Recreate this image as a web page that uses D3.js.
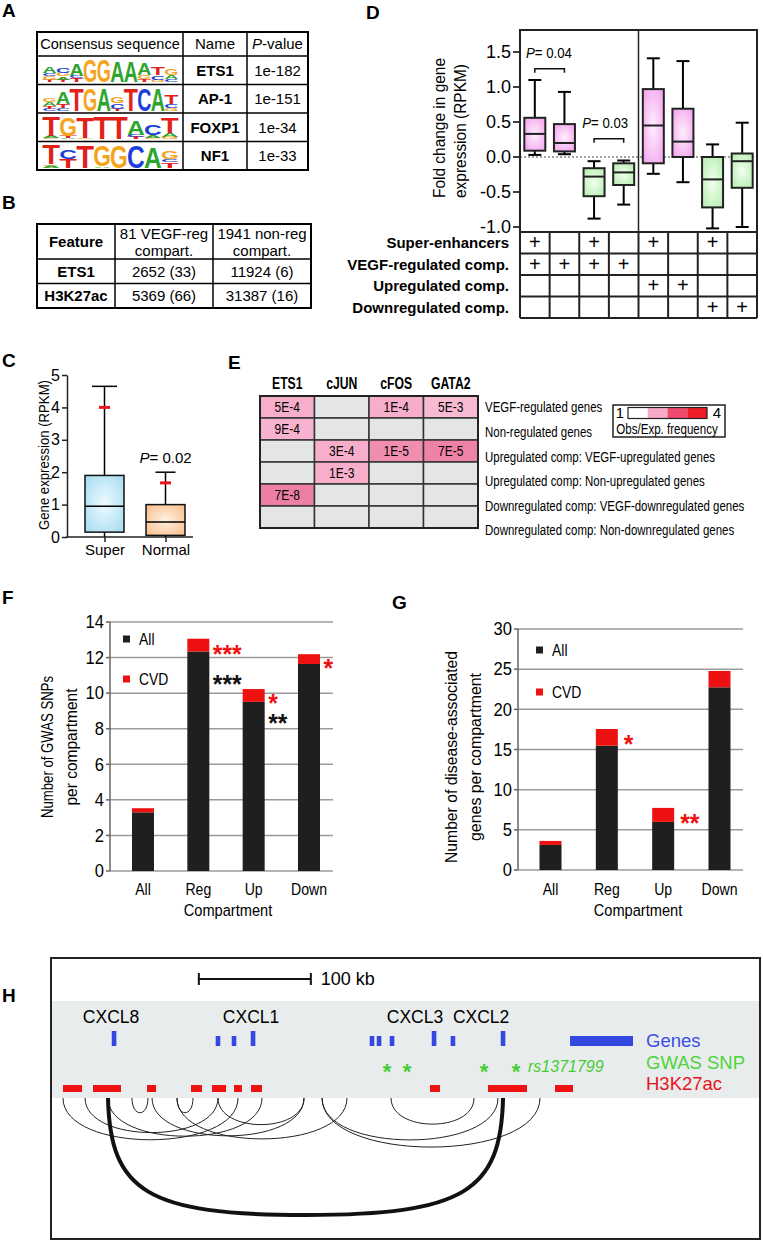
<!DOCTYPE html>
<html><head><meta charset="utf-8">
<script src="https://cdn.jsdelivr.net/npm/d3@7"></script>
<style>
html,body{margin:0;padding:0;background:#fff;}
svg{display:block;font-family:"Liberation Sans",Arial,Helvetica,sans-serif;}
</style></head><body>
<svg id="fig" width="763" height="1240"></svg>
<script>
// ================= DATA =================
// Panel A
const motifNames = ["ETS1", "AP-1", "FOXP1", "NF1"];
const motifPvalues = ["1e-182", "1e-151", "1e-34", "1e-33"];
const logoETS1 = [
  [["T",0.2],["G",0.3],["C",0.2],["A",0.55]],
  [["T",0.2],["A",0.25],["G",0.3],["C",0.45]],
  [["T",0.3],["C",0.2],["A",0.95]],
  [["G",1.85]], [["G",1.85]], [["A",1.75]], [["A",1.65]],
  [["T",0.25],["G",0.35],["A",0.9]],
  [["G",0.2],["C",0.35],["T",0.6]],
  [["C",0.25],["A",0.35],["G",0.55]]
];
const logoAP1 = [
  [["C",0.15],["T",0.25],["A",0.3],["G",0.35]],
  [["C",0.2],["T",0.3],["A",1.0]],
  [["T",1.85]], [["G",1.85]], [["A",1.85]],
  [["T",0.15],["C",0.45],["G",0.5]],
  [["T",1.85]], [["C",1.85]], [["A",1.85]],
  [["G",0.2],["C",0.35],["T",0.7]]
];
const logoFOXP1 = [
  [["G",0.1],["A",0.15],["T",1.6]],
  [["A",0.1],["T",0.15],["G",1.5]],
  [["G",0.1],["T",1.7]],
  [["T",1.8]], [["T",1.8]],
  [["T",0.15],["C",0.2],["A",1.2]],
  [["G",0.1],["A",0.2],["C",0.8]],
  [["G",0.15],["A",0.3],["T",1.3]]
];
const logoNF1 = [
  [["A",0.15],["G",0.1],["T",1.55]],
  [["T",0.7],["C",0.75]],
  [["T",1.8]],
  [["A",0.1],["G",1.7]],
  [["G",1.8]], [["C",1.8]], [["A",1.75]],
  [["T",0.45],["C",0.2],["G",0.6]]
];
const motifLogos = [logoETS1, logoAP1, logoFOXP1, logoNF1];

// Panel B
const bFeatures = ["ETS1", "H3K27ac"];
const bVegfReg = ["2652 (33)", "5369 (66)"];
const bNonReg = ["11924 (6)", "31387 (16)"];

// Panel C
const cGroups = ["Super", "Normal"];
const cMin = [0, 0];
const cQ1 = [0.15, 0.05];
const cMedian = [0.95, 0.46];
const cQ3 = [1.9, 1.0];
const cMax = [4.65, 2.0];
const cMark = [4.0, 1.67];
const cTicks = [0, 1, 2, 3, 4, 5];

// Panel D
const dMin    = [0.03, 0.04, -0.88, -0.68, -0.24, -0.36, -1.02, -1.00];
const dQ1     = [0.09, 0.08, -0.56, -0.40, -0.09,  0.00, -0.72, -0.44];
const dMedian = [0.33, 0.20, -0.28, -0.22,  0.45,  0.22, -0.32, -0.06];
const dQ3     = [0.56, 0.47, -0.16, -0.09,  0.97,  0.69,  0.00,  0.05];
const dMax    = [1.10, 0.93, -0.06, -0.05,  1.41,  1.37,  0.18,  0.49];
const dDirection = ["up","up","down","down","up","up","down","down"];
const dTicks = [-1.0, -0.5, 0.0, 0.5, 1.0, 1.5];
const dRowLabels = ["Super-enhancers", "VEGF-regulated comp.", "Upregulated comp.", "Downregulated comp."];
const dMatrix = [
  [1,0,1,0,1,0,1,0],
  [1,1,1,1,0,0,0,0],
  [0,0,0,0,1,1,0,0],
  [0,0,0,0,0,0,1,1]
];
const dComparisons = [{a:0, b:1, y:1.26, p:"0.04"}, {a:2, b:3, y:0.26, p:"0.03"}];

// Panel E
const eFactors = ["ETS1", "cJUN", "cFOS", "GATA2"];
const eGeneSets = ["VEGF-regulated genes", "Non-regulated genes",
  "Upregulated comp: VEGF-upregulated genes", "Upregulated comp: Non-upregulated genes",
  "Downregulated comp: VEGF-downregulated genes", "Downregulated comp: Non-downregulated genes"];
const ePvalues = [
  ["5E-4", null, "1E-4", "5E-3"],
  ["9E-4", null, null, null],
  [null, "3E-4", "1E-5", "7E-5"],
  [null, "1E-3", null, null],
  ["7E-8", null, null, null],
  [null, null, null, null]
];
const eRatios = [
  [2.0, null, 2.0, 1.85],
  [1.95, null, null, null],
  [null, 2.0, 2.45, 2.6],
  [null, 2.0, null, null],
  [2.65, null, null, null],
  [null, null, null, null]
];

// Panels F and G
const compartments = ["All", "Reg", "Up", "Down"];
const snpAll = [3.30, 12.34, 9.51, 11.64];
const snpCVD = [0.23, 0.72, 0.72, 0.55];
const snpTicks = [0, 2, 4, 6, 8, 10, 12, 14];
const snpStars = [
  {cat:"Reg", text:"***", color:"red", v:12.53},
  {cat:"Reg", text:"***", color:"black", v:10.84},
  {cat:"Up", text:"*", color:"red", v:9.78},
  {cat:"Up", text:"**", color:"black", v:8.65},
  {cat:"Down", text:"*", color:"red", v:11.74}
];
const geneAll = [3.12, 15.47, 5.99, 22.74];
const geneCVD = [0.50, 2.08, 1.74, 2.04];
const geneTicks = [0, 5, 10, 15, 20, 25, 30];
const geneStars = [
  {cat:"Reg", text:"*", color:"red", v:16.4},
  {cat:"Up", text:"**", color:"red", v:6.6}
];

// Panel H (positions in kb from left edge of the window)
const hGenePos  = [56.3, 149.1, 163.4, 180.4, 286.6, 292.9, 304.5, 342.0, 358.9, 403.6];
const hGeneTall = [1, 0, 0, 1, 0, 0, 0, 1, 0, 1];
const hGeneNames = ["CXCL8", "CXCL1", "CXCL3", "CXCL2"];
const hGeneNamePos = [53.6, 178.6, 325.0, 384.0];
const hSnpPos = [300.0, 317.9, 386.6, 415.2];
const hSnpName = "rs1371799";
const hH3K27ac = [[10.7,27.7],[37.5,62.5],[85.7,93.8],[125,134.8],[143.8,156.3],
  [163.4,170.5],[178.6,188.4],[338.4,347.3],[390.2,425.0],[450.0,466.1]];
const hLoops = [[10.7,167],[30.4,149.1],[50.9,188.4],[72.3,86.6],[90.2,225.9],
  [112.5,126.8],[112.5,264.3],[149.1,225.9],[242,399.1],[242,436.6],[303.6,377.7]];
const hStrongLoop = [50.9, 403.6];
const hScaleBar = [132, 232];

// ================= DRAW =================
const svg = d3.select("#fig");
const defs = svg.append("defs");

function txt(g, x, y, s, o = {}) {
  let tr = `translate(${x},${y})`;
  if (o.rot) tr += ` rotate(${o.rot})`;
  if (o.sx) tr += ` scale(${o.sx},1)`;
  const t = g.append("text")
    .attr("transform", tr)
    .attr("text-anchor", o.anchor || "start")
    .attr("dy", o.dy == null ? "0.35em" : o.dy)
    .style("font-size", (o.size || 14) + "px")
    .style("font-weight", o.weight || "normal")
    .style("font-style", o.style || "normal")
    .attr("fill", o.fill || "#000")
    .text(s);
  if (o.len) t.attr("textLength", o.len).attr("lengthAdjust", "spacingAndGlyphs");
  return t;
}
function pText(g, x, y, val, o = {}) {
  let tr = `translate(${x},${y})`;
  if (o.sx) tr += ` scale(${o.sx},1)`;
  const t = g.append("text").attr("transform", tr)
    .attr("text-anchor", o.anchor || "start").attr("dy", "0.35em")
    .style("font-size", (o.size || 15) + "px");
  t.append("tspan").style("font-style", "italic").text("P");
  t.append("tspan").text(val);
  return t;
}
function line(g, x1, y1, x2, y2, w = 1, c = "#000") {
  return g.append("line").attr("x1", x1).attr("y1", y1).attr("x2", x2).attr("y2", y2)
    .attr("stroke", c).attr("stroke-width", w);
}
function radial(id, inner, outer) {
  const gr = defs.append("radialGradient").attr("id", id).attr("cx", "50%").attr("cy", "50%").attr("r", "65%");
  gr.append("stop").attr("offset", "0%").attr("stop-color", inner);
  gr.append("stop").attr("offset", "100%").attr("stop-color", outer);
}
radial("gBlue", "#eefbff", "#a9ddf1");
radial("gOrange", "#fff0e2", "#f8c08f");
radial("gPink", "#fff0fd", "#f2a3ee");
radial("gGreen", "#f2fff0", "#b7edb0");
function panelLabel(x, y, s) { txt(svg, x, y, s, {size: 19, weight: "bold"}); }

// ---------- Panel A ----------
{
  const g = svg.append("g");
  panelLabel(2, 10, "A");
  const colX = [37, 183, 247, 308];
  const top = 32, headBottom = 56, bottom = 170;
  const rowY = d3.scaleBand().domain(motifNames).range([headBottom, bottom]);
  rowY.domain().forEach((n, i) => { if (i > 0) line(g, colX[0], rowY(n), colX[3], rowY(n), 1.5); });
  line(g, colX[0], headBottom, colX[3], headBottom, 1.5);
  line(g, colX[1], top, colX[1], bottom, 1.5);
  line(g, colX[2], top, colX[2], bottom, 1.5);
  g.append("rect").attr("x", colX[0]).attr("y", top).attr("width", colX[3] - colX[0]).attr("height", bottom - top)
    .attr("fill", "none").attr("stroke", "#000").attr("stroke-width", 2);
  const hy = (top + headBottom) / 2;
  txt(g, (colX[0] + colX[1]) / 2, hy, "Consensus sequence", {size: 14.5, anchor: "middle"});
  txt(g, (colX[1] + colX[2]) / 2, hy, "Name", {size: 15, anchor: "middle"});
  pText(g, (colX[2] + colX[3]) / 2, hy, "-value", {anchor: "middle", size: 15});
  motifNames.forEach((n, i) => {
    const cy = rowY(n) + rowY.bandwidth() / 2;
    txt(g, (colX[1] + colX[2]) / 2, cy, n, {size: 15, weight: "bold", anchor: "middle"});
    txt(g, (colX[2] + colX[3]) / 2, cy, motifPvalues[i], {size: 15, anchor: "middle"});
  });
  // sequence logos
  const glyphW = {A: 0.722, C: 0.722, G: 0.778, T: 0.611};
  const letterColor = {A: "#2da42d", C: "#1c3fd8", G: "#f5a41e", T: "#e2211c"};
  const bitH = d3.scaleLinear().domain([0, 2]).range([0, 25]);
  motifLogos.forEach((logo, i) => {
    const n = motifNames[i];
    const yB = rowY(n) + rowY.bandwidth() - 2.5;
    const px = d3.scaleBand().domain(d3.range(logo.length)).range([43, 178]).paddingInner(0.03);
    logo.forEach((stack, j) => {
      let y = yB;
      const w = px.bandwidth();
      stack.forEach(([ch, bits]) => {
        const h = bitH(bits);
        g.append("text")
          .attr("transform", `translate(${px(j) + w / 2},${y}) scale(${w / (glyphW[ch] * 100) * 1.08},${h / 72})`)
          .attr("text-anchor", "middle").style("font-size", "100px").style("font-weight", "bold")
          .attr("fill", letterColor[ch]).text(ch);
        y -= h;
      });
    });
  });
}

// ---------- Panel B ----------
{
  const g = svg.append("g");
  panelLabel(2, 202, "B");
  const colX = [37, 115, 213, 311];
  const top = 224, headBottom = 259, bottom = 308;
  const rowY = d3.scaleBand().domain(bFeatures).range([headBottom, bottom]);
  line(g, colX[0], headBottom, colX[3], headBottom, 1.5);
  line(g, colX[0], rowY(bFeatures[1]), colX[3], rowY(bFeatures[1]), 1.5);
  line(g, colX[1], top, colX[1], bottom, 1.5);
  line(g, colX[2], top, colX[2], bottom, 1.5);
  g.append("rect").attr("x", colX[0]).attr("y", top).attr("width", colX[3] - colX[0]).attr("height", bottom - top)
    .attr("fill", "none").attr("stroke", "#000").attr("stroke-width", 2);
  const c0 = (colX[0] + colX[1]) / 2, c1 = (colX[1] + colX[2]) / 2, c2 = (colX[2] + colX[3]) / 2;
  txt(g, c0, (top + headBottom) / 2, "Feature", {size: 15, weight: "bold", anchor: "middle"});
  txt(g, c1, 233.5, "81 VEGF-reg", {size: 15, anchor: "middle"});
  txt(g, c1, 250.5, "compart.", {size: 15, anchor: "middle"});
  txt(g, c2, 233.5, "1941 non-reg", {size: 15, anchor: "middle"});
  txt(g, c2, 250.5, "compart.", {size: 15, anchor: "middle"});
  bFeatures.forEach((f, i) => {
    const cy = rowY(f) + rowY.bandwidth() / 2;
    txt(g, c0, cy, f, {size: 15, weight: "bold", anchor: "middle"});
    txt(g, c1, cy, bVegfReg[i], {size: 15, anchor: "middle"});
    txt(g, c2, cy, bNonReg[i], {size: 15, anchor: "middle"});
  });
}

// ---------- Panel C ----------
{
  const g = svg.append("g");
  panelLabel(2, 360, "C");
  const y = d3.scaleLinear().domain([0, 5]).range([537, 375]);
  const x = d3.scalePoint().domain(cGroups).range([104.5, 165.5]);
  const axL = g.append("g").attr("transform", "translate(67,0)")
    .call(d3.axisLeft(y).tickValues(cTicks).tickFormat(d3.format("d")).tickSize(5).tickSizeOuter(0));
  axL.selectAll("text").style("font-size", "16px").style("font-family", "inherit").attr("x", -7);
  axL.selectAll("line,path").attr("stroke", "#222").attr("stroke-width", 1.5);
  const axB = g.append("g").attr("transform", "translate(0,537)")
    .call(d3.axisBottom(x).tickSize(5).tickSizeOuter(0));
  axB.select(".domain").remove();
  axB.selectAll("line").attr("stroke", "#222").attr("stroke-width", 1.5);
  axB.selectAll("text").style("font-size", "15px").style("font-family", "inherit").attr("y", 7);
  line(g, 66.3, 537, 193, 537, 1.5, "#222");
  txt(g, 44, 455, "Gene expression (RPKM)", {size: 15, rot: -90, anchor: "middle", len: 150});
  const fills = ["url(#gBlue)", "url(#gOrange)"];
  const bw = 39, capW = [25, 20];
  cGroups.forEach((c, i) => {
    const cx = x(c);
    line(g, cx, y(cMin[i]), cx, y(cMax[i]), 1.5);
    line(g, cx - capW[i] / 2, y(cMax[i]), cx + capW[i] / 2, y(cMax[i]), 1.5);
    g.append("rect").attr("x", cx - bw / 2).attr("y", y(cQ3[i])).attr("width", bw)
      .attr("height", y(cQ1[i]) - y(cQ3[i])).attr("fill", fills[i]).attr("stroke", "#111").attr("stroke-width", 1.5);
    line(g, cx - bw / 2, y(cMedian[i]), cx + bw / 2, y(cMedian[i]), 1.5);
    g.append("rect").attr("x", cx - 5.5).attr("y", y(cMark[i]) - 1.5).attr("width", 11).attr("height", 3).attr("fill", "#e8141c");
  });
  pText(g, x("Normal"), 458, "= 0.02", {anchor: "middle", size: 15});
}

// ---------- Panel D ----------
{
  const g = svg.append("g");
  panelLabel(366, 12, "D");
  const y = d3.scaleLinear().domain([-1, 1.5]).range([227, 52]);
  const x = d3.scaleBand().domain(d3.range(8)).range([520, 757]);
  const frameTop = 30, frameBottom = 232, tableBottom = 318;
  dTicks.forEach(t => {
    line(g, 513, y(t), 520, y(t), 1.5);
    txt(g, 511, y(t), t.toFixed(1), {size: 18, anchor: "end"});
  });
  line(g, 520, y(0), 757, y(0), 1, "#444").attr("stroke-dasharray", "2,2");
  txt(g, 439, 128, "Fold change in gene", {size: 16, rot: -90, anchor: "middle", len: 140});
  txt(g, 460, 131, "expression (RPKM)", {size: 16, rot: -90, anchor: "middle", len: 134});
  const bw = 21, capW = 13;
  d3.range(8).forEach(i => {
    const cx = x(i) + x.bandwidth() / 2;
    line(g, cx, y(dMin[i]), cx, y(dMax[i]), 2);
    line(g, cx - capW / 2, y(dMax[i]), cx + capW / 2, y(dMax[i]), 2);
    line(g, cx - capW / 2, y(dMin[i]), cx + capW / 2, y(dMin[i]), 2);
    g.append("rect").attr("x", cx - bw / 2).attr("y", y(dQ3[i])).attr("width", bw)
      .attr("height", Math.max(1, y(dQ1[i]) - y(dQ3[i])))
      .attr("fill", dDirection[i] === "up" ? "url(#gPink)" : "url(#gGreen)")
      .attr("stroke", "#222").attr("stroke-width", 2);
    line(g, cx - bw / 2, y(dMedian[i]), cx + bw / 2, y(dMedian[i]), 2, "#222");
  });
  dComparisons.forEach(c => {
    const xa = x(c.a) + x.bandwidth() / 2, xb = x(c.b) + x.bandwidth() / 2, yy = y(c.y);
    g.append("path").attr("d", `M${xa},${yy + 4}V${yy}H${xb}V${yy + 4}`).attr("fill", "none")
      .attr("stroke", "#111").attr("stroke-width", 1.5);
    pText(g, x(c.a) + (c.a === 0 ? 6 : 3), y(c.y + 0.235), "= " + c.p, {size: 15, sx: 0.88});
  });
  const rowY = d3.scaleBand().domain(d3.range(4)).range([frameBottom, tableBottom]);
  d3.range(5).forEach(k => {
    const yy = k < 4 ? rowY(k) : tableBottom;
    line(g, 520, yy, 757, yy, 2, "#222");
  });
  d3.range(9).forEach(k => {
    const xx = k < 8 ? x(k) : 757;
    line(g, xx, frameBottom, xx, tableBottom, 2, "#222");
  });
  dRowLabels.forEach((lab, r) => {
    const cy = rowY(r) + rowY.bandwidth() / 2;
    txt(g, 509, cy, lab, {size: 15, weight: "bold", anchor: "end"});
    dMatrix[r].forEach((v, c) => {
      if (v) txt(g, x(c) + x.bandwidth() / 2, cy, "+", {size: 20, anchor: "middle", dy: "0.33em"});
    });
  });
  g.append("rect").attr("x", 520).attr("y", frameTop).attr("width", 237).attr("height", frameBottom - frameTop)
    .attr("fill", "none").attr("stroke", "#222").attr("stroke-width", 2);
  line(g, x(4), frameTop, x(4), frameBottom, 1.5, "#222");
}

// ---------- Panel E ----------
{
  const g = svg.append("g");
  panelLabel(228, 362, "E");
  const x = d3.scaleBand().domain(eFactors).range([260, 478]);
  const y = d3.scaleBand().domain(d3.range(6)).range([396, 528]);
  const color = d3.scaleLinear().domain([1, 2, 3, 4]).range(["#ffffff", "#f6aecb", "#e8668f", "#ee1111"]);
  eFactors.forEach(f => txt(g, x(f) + x.bandwidth() / 2, 383, f, {size: 16.5, weight: "bold", anchor: "middle", sx: 0.74}));
  d3.range(6).forEach(r => {
    eFactors.forEach((f, c) => {
      const v = eRatios[r][c];
      g.append("rect").attr("x", x(f)).attr("y", y(r)).attr("width", x.bandwidth()).attr("height", y.bandwidth())
        .attr("fill", v == null ? "#e4e6e6" : color(v)).attr("stroke", "#333").attr("stroke-width", 1.5);
      if (ePvalues[r][c]) txt(g, x(f) + x.bandwidth() / 2, y(r) + y.bandwidth() / 2, ePvalues[r][c], {size: 15, anchor: "middle", sx: 0.8});
    });
  });
  g.append("rect").attr("x", 260).attr("y", 396).attr("width", 218).attr("height", 132)
    .attr("fill", "none").attr("stroke", "#222").attr("stroke-width", 2);
  const ly = d3.scalePoint().domain(d3.range(6)).range([407, 530]);
  eGeneSets.forEach((s, i) => txt(g, 485, ly(i), s, {size: 15.5, anchor: "start", sx: 0.74}));
  g.append("rect").attr("x", 613).attr("y", 405).attr("width", 112).attr("height", 32)
    .attr("fill", "#fff").attr("stroke", "#222").attr("stroke-width", 1.5);
  const legendVals = [1, 2, 3, 4];
  const lx = d3.scaleBand().domain(legendVals).range([628, 707]);
  const legendCols = ["#ffffff", "#f7a9c8", "#ef4a6e", "#ee1c25"];
  legendVals.forEach((v, i) => g.append("rect").attr("x", lx(v)).attr("y", 407.5).attr("width", lx.bandwidth()).attr("height", 11)
    .attr("fill", legendCols[i]));
  g.append("rect").attr("x", 628).attr("y", 407.5).attr("width", 79).attr("height", 11)
    .attr("fill", "none").attr("stroke", "#222").attr("stroke-width", 1.2);
  txt(g, 620, 413, "1", {size: 15, anchor: "middle"});
  txt(g, 717, 413, "4", {size: 15, anchor: "middle"});
  txt(g, 667, 429, "Obs/Exp. frequency", {size: 15, anchor: "middle", sx: 0.77});
}

// ---------- Bar panels F / G ----------
function barPanel(o) {
  const g = svg.append("g");
  panelLabel(o.labelX, o.labelY, o.label);
  const y = d3.scaleLinear().domain([0, o.max]).range([o.y0, o.yTop]);
  const x = d3.scalePoint().domain(compartments).range(o.xRange);
  o.ticks.forEach(t => {
    line(g, o.axisX, y(t), o.gridEnd, y(t), 1.5, "#9a9c9c");
    line(g, o.axisX - 4, y(t), o.axisX, y(t), 1.5, "#666");
    txt(g, o.axisX - 6, y(t), String(t), {size: 18, anchor: "end", sx: 0.92});
  });
  line(g, o.axisX, o.yTop, o.axisX, o.y0, 1.5, "#666");
  const bw = 22;
  compartments.forEach((c, i) => {
    const cx = x(c);
    g.append("rect").attr("x", cx - bw / 2).attr("y", y(o.all[i])).attr("width", bw)
      .attr("height", y(0) - y(o.all[i])).attr("fill", "#1f1f1f");
    g.append("rect").attr("x", cx - bw / 2).attr("y", y(o.all[i] + o.cvd[i])).attr("width", bw)
      .attr("height", y(o.all[i]) - y(o.all[i] + o.cvd[i])).attr("fill", "#ee1111");
    txt(g, cx, 889, c, {size: 16, anchor: "middle", sx: 0.88});
  });
  o.stars.forEach(s => {
    const cx = x(s.cat) + bw / 2 + o.starGap;
    txt(g, cx, y(s.v), s.text, {size: 26, weight: "bold", anchor: "start", fill: s.color === "red" ? "#ee1111" : "#111", dy: "0.56em", sx: 0.95});
  });
  txt(g, o.compX, 910, "Compartment", {size: 17, anchor: "middle", sx: 0.86});
  o.ylab.forEach(l => txt(g, l.x, o.ylabY, l.t, {size: 16, rot: -90, anchor: "middle", len: l.len}));
  g.append("rect").attr("x", o.legX).attr("y", o.legY1 - 3.5).attr("width", 7).attr("height", 7).attr("fill", "#1f1f1f");
  g.append("rect").attr("x", o.legX).attr("y", o.legY2 - 3.5).attr("width", 7).attr("height", 7).attr("fill", "#ee1111");
  txt(g, o.legX + 16, o.legY1, "All", {size: 17, sx: 0.82});
  txt(g, o.legX + 16, o.legY2, "CVD", {size: 17, sx: 0.82});
}
barPanel({label: "F", labelX: 2, labelY: 597, max: 14, y0: 871, yTop: 622, xRange: [143, 309],
  axisX: 110, gridEnd: 333, ticks: snpTicks, all: snpAll, cvd: snpCVD, stars: snpStars, starGap: 3.5,
  compX: 228, ylabY: 747, ylab: [{x: 47, t: "Number of GWAS SNPs", len: 142}, {x: 71, t: "per compartment", len: 117}],
  legX: 123, legY1: 639, legY2: 679});
barPanel({label: "G", labelX: 392, labelY: 602, max: 30, y0: 870, yTop: 629, xRange: [550.5, 719.5],
  axisX: 518, gridEnd: 743, ticks: geneTicks, all: geneAll, cvd: geneCVD, stars: geneStars, starGap: 6,
  compX: 638, ylabY: 757, ylab: [{x: 451, t: "Number of disease-associated", len: 212}, {x: 475, t: "genes per compartment", len: 168}],
  legX: 536, legY1: 650, legY2: 692});

// ---------- Panel H ----------
{
  const g = svg.append("g");
  panelLabel(2, 995, "H");
  const x = d3.scaleLinear().domain([0, 630]).range([51, 756.6]);
  const boxX0 = 51, boxY0 = 958, boxX1 = 760, boxY1 = 1239;
  const bandTop = 1001, bandBottom = 1098;
  g.append("rect").attr("x", boxX0).attr("y", bandTop).attr("width", boxX1 - boxX0).attr("height", bandBottom - bandTop)
    .attr("fill", "#e9ecec");
  const sb0 = x(hScaleBar[0]), sb1 = x(hScaleBar[1]);
  line(g, sb0, 979, sb1, 979, 2, "#111");
  line(g, sb0, 973, sb0, 985, 2, "#111");
  line(g, sb1, 973, sb1, 985, 2, "#111");
  txt(g, sb1 + 10, 979, (hScaleBar[1] - hScaleBar[0]) + " kb", {size: 18});
  hGeneNames.forEach((n, i) => txt(g, x(hGeneNamePos[i]), 1017, n, {size: 17.5, anchor: "middle"}));
  hGenePos.forEach((p, i) => {
    const top = hGeneTall[i] ? 1031 : 1036;
    g.append("rect").attr("x", x(p) - 2.3).attr("y", top).attr("width", 4.6).attr("height", 1046 - top).attr("fill", "#3447e0");
  });
  g.append("rect").attr("x", 570).attr("y", 1036).attr("width", 63).attr("height", 10).attr("fill", "#3447e0");
  txt(g, 646, 1041, "Genes", {size: 18.5, fill: "#3a4ee6"});
  hSnpPos.forEach(p => txt(g, x(p), 1066, "*", {size: 22, weight: "bold", anchor: "middle", fill: "#44cc33", dy: "0.57em"}));
  txt(g, x(hSnpPos[hSnpPos.length - 1]) + 12, 1066, hSnpName, {size: 16, style: "italic", fill: "#44cc33"});
  txt(g, 646, 1063, "GWAS SNP", {size: 18.5, fill: "#4cd43a"});
  hH3K27ac.forEach(([s, e]) => g.append("rect").attr("x", x(s)).attr("y", 1085).attr("width", x(e) - x(s)).attr("height", 7).attr("fill", "#ee1111"));
  txt(g, 646, 1084, "H3K27ac", {size: 18.5, fill: "#e8141c"});
  const y0 = bandBottom;
  hLoops.forEach(([a, b]) => {
    const x1 = x(a), x2 = x(b), span = x2 - x1;
    const d = 12 + 0.17 * span;
    const k = 4 / 3;
    g.append("path").attr("d", `M${x1},${y0}C${x1},${y0 + k * d} ${x2},${y0 + k * d} ${x2},${y0}`)
      .attr("fill", "none").attr("stroke", "#222").attr("stroke-width", 1);
  });
  {
    const x1 = x(hStrongLoop[0]), x2 = x(hStrongLoop[1]), w = x2 - x1, xm = (x1 + x2) / 2;
    const d = 117, yb = y0 + d;
    const p = `M${x1},${y0}C${x1 + 0.005 * w},${y0 + 0.8 * d} ${x1 + 0.1 * w},${yb} ${xm},${yb}` +
      `C${x2 - 0.1 * w},${yb} ${x2 - 0.005 * w},${y0 + 0.8 * d} ${x2},${y0}`;
    g.append("path").attr("d", p).attr("fill", "none").attr("stroke", "#111").attr("stroke-width", 4);
  }
  g.append("rect").attr("x", boxX0).attr("y", boxY0).attr("width", boxX1 - boxX0).attr("height", boxY1 - boxY0)
    .attr("fill", "none").attr("stroke", "#222").attr("stroke-width", 2);
}
</script>
</body></html>
